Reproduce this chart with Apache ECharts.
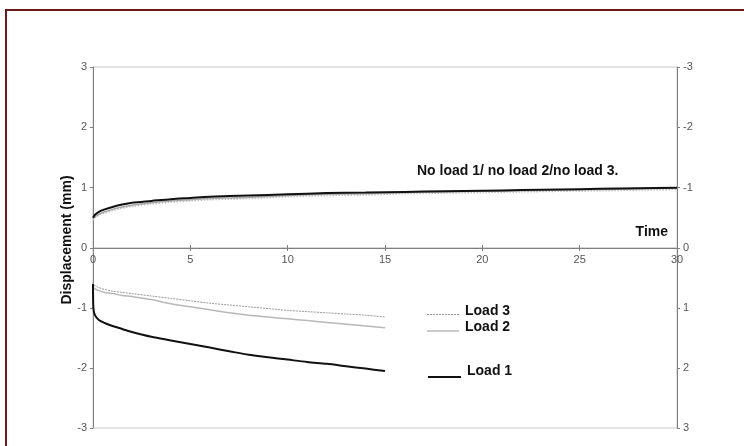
<!DOCTYPE html>
<html><head><meta charset="utf-8">
<script src="https://cdn.jsdelivr.net/npm/echarts@6/dist/echarts.min.js"></script>
<style>html,body{margin:0;padding:0;background:#fff}#c{width:744px;height:446px}</style>
</head><body><div id="c"></div>
<script>
const xTicks = [0, 5, 10, 15, 20, 25, 30];
const yLeftTicks = [-3, -2, -1, 0, 1, 2, 3];
const yRightTicks = [-3, -2, -1, 0, 1, 2, 3];

const noLoadTime = [0, 0.1, 0.3, 0.6, 1, 1.5, 2, 3, 4, 5, 6, 7, 8, 10, 12, 14, 16, 18, 20, 22, 24, 26, 28, 30];
const noLoad1 = [0.50, 0.55, 0.60, 0.64, 0.68, 0.72, 0.75, 0.78, 0.81, 0.83, 0.85, 0.86, 0.87, 0.89, 0.91, 0.92, 0.93, 0.94, 0.95, 0.96, 0.97, 0.98, 0.99, 1.00];
const noLoad2 = [0.48, 0.52, 0.56, 0.60, 0.64, 0.68, 0.71, 0.75, 0.78, 0.80, 0.82, 0.83, 0.84, 0.87, 0.89, 0.90, 0.92, 0.93, 0.94, 0.95, 0.96, 0.97, 0.98, 0.99];
const noLoad3 = [0.46, 0.50, 0.54, 0.58, 0.62, 0.66, 0.69, 0.73, 0.76, 0.78, 0.80, 0.81, 0.82, 0.85, 0.87, 0.88, 0.90, 0.91, 0.92, 0.93, 0.94, 0.95, 0.96, 0.97];

const loadTime = [0, 0.02, 0.1, 0.3, 0.6, 1, 1.5, 2, 3, 4, 5, 6, 7, 8, 9, 10, 11, 12, 13, 14, 15];
const load1 = [-0.60, -1.00, -1.12, -1.20, -1.25, -1.30, -1.35, -1.40, -1.48, -1.54, -1.60, -1.66, -1.72, -1.78, -1.82, -1.86, -1.90, -1.93, -1.97, -2.01, -2.05];
const load2 = [-0.62, -0.65, -0.68, -0.71, -0.74, -0.76, -0.79, -0.81, -0.86, -0.93, -0.98, -1.03, -1.08, -1.12, -1.15, -1.18, -1.21, -1.24, -1.27, -1.30, -1.33];
const load3 = [-0.57, -0.60, -0.63, -0.66, -0.69, -0.72, -0.74, -0.76, -0.80, -0.84, -0.88, -0.92, -0.95, -0.98, -1.01, -1.04, -1.06, -1.08, -1.10, -1.12, -1.15];

const zip = (t, v) => t.map((x, i) => [x, v[i]]);
const FONT = 'Liberation Sans, Arial, sans-serif';
const AX = '#808080';
const lbl = { color: '#555', fontSize: 11, fontFamily: FONT, margin: 6 };
const yMin = yLeftTicks[0], yMax = yLeftTicks[yLeftTicks.length - 1];
const rMin = yRightTicks[0], rMax = yRightTicks[yRightTicks.length - 1];
const BOLD = 'bold 14px ' + FONT;

const chart = echarts.init(document.getElementById('c'));
chart.setOption({
  animation: false,
  backgroundColor: '#fff',
  grid: [
    { left: 93, right: 67, top: 67, height: 181, show: true, borderColor: '#c8c8c8', borderWidth: 1, backgroundColor: 'transparent' },
    { left: 93, right: 67, top: 248, height: 180, show: true, borderColor: '#c8c8c8', borderWidth: 1, backgroundColor: 'transparent' }
  ],
  xAxis: [{
    gridIndex: 0, type: 'value', min: xTicks[0], max: xTicks[xTicks.length - 1], interval: 5, position: 'bottom',
    axisLine: { onZero: false, lineStyle: { color: AX, width: 1 } },
    axisTick: { show: true, length: 3, lineStyle: { color: AX } },
    axisLabel: { color: '#555', fontSize: 11, fontFamily: FONT, margin: 6 },
    splitLine: { show: false }
  }, {
    gridIndex: 1, type: 'value', min: xTicks[0], max: xTicks[xTicks.length - 1], interval: 5, position: 'top',
    axisLine: { onZero: false, lineStyle: { color: AX, width: 1 } },
    axisTick: { show: true, length: 3, lineStyle: { color: AX } },
    axisLabel: { show: false },
    splitLine: { show: false }
  }],
  yAxis: [{
    gridIndex: 0, type: 'value', min: 0, max: yMax, interval: 1, position: 'left',
    axisLine: { show: true, onZero: false, lineStyle: { color: AX } },
    axisTick: { show: true, length: 3, lineStyle: { color: AX } },
    axisLabel: lbl, splitLine: { show: false }
  }, {
    gridIndex: 0, type: 'value', min: rMin, max: 0, interval: 1, position: 'right', inverse: true,
    axisLine: { show: true, onZero: false, lineStyle: { color: AX } },
    axisTick: { show: true, length: 3, lineStyle: { color: AX } },
    axisLabel: lbl, splitLine: { show: false }
  }, {
    gridIndex: 1, type: 'value', min: yMin, max: 0, interval: 1, position: 'left',
    axisLine: { show: true, onZero: false, lineStyle: { color: AX } },
    axisTick: { show: true, length: 3, lineStyle: { color: AX } },
    axisLabel: Object.assign({ showMaxLabel: false }, lbl), splitLine: { show: false }
  }, {
    gridIndex: 1, type: 'value', min: 0, max: rMax, interval: 1, position: 'right', inverse: true,
    axisLine: { show: true, onZero: false, lineStyle: { color: AX } },
    axisTick: { show: true, length: 3, lineStyle: { color: AX } },
    axisLabel: Object.assign({ showMinLabel: false }, lbl), splitLine: { show: false }
  }],
  series: [
    { name: 'no load 3', type: 'line', xAxisIndex: 0, yAxisIndex: 0, data: zip(noLoadTime, noLoad3), smooth: 0.3, showSymbol: false, lineStyle: { color: '#bdbdbd', width: 1.5, type: 'dotted' } },
    { name: 'no load 2', type: 'line', xAxisIndex: 0, yAxisIndex: 0, data: zip(noLoadTime, noLoad2), smooth: 0.3, showSymbol: false, lineStyle: { color: '#a8a8a8', width: 1.5 } },
    { name: 'No load 1', type: 'line', xAxisIndex: 0, yAxisIndex: 0, data: zip(noLoadTime, noLoad1), smooth: 0.3, showSymbol: false, lineStyle: { color: '#111', width: 2 } },
    { name: 'Load 3', type: 'line', xAxisIndex: 1, yAxisIndex: 2, data: zip(loadTime, load3), smooth: 0.3, showSymbol: false, lineStyle: { color: '#9a9a9a', width: 1, type: [2, 1] } },
    { name: 'Load 2', type: 'line', xAxisIndex: 1, yAxisIndex: 2, data: zip(loadTime, load2), smooth: 0.3, showSymbol: false, lineStyle: { color: '#b8b8b8', width: 1.5 } },
    { name: 'Load 1', type: 'line', xAxisIndex: 1, yAxisIndex: 2, data: zip(loadTime, load1), smooth: 0.3, showSymbol: false, lineStyle: { color: '#111', width: 2 } }
  ],
  graphic: [
    { type: 'rect', shape: { x: 6, y: 10, width: 800, height: 500 }, style: { fill: 'none', stroke: '#6a1a1a', lineWidth: 2 }, z: 100 },
    { type: 'text', x: 67, y: 240, rotation: Math.PI / 2, style: { text: 'Displacement (mm)', font: BOLD, fill: '#111', align: 'center', verticalAlign: 'middle' } },
    { type: 'text', x: 417, y: 171, style: { text: 'No load 1/ no load 2/no load 3.', font: BOLD, fill: '#111', verticalAlign: 'middle' } },
    { type: 'text', x: 668, y: 232, style: { text: 'Time', font: BOLD, fill: '#111', align: 'right', verticalAlign: 'middle' } },
    { type: 'line', shape: { x1: 427, y1: 314.5, x2: 459, y2: 314.5 }, style: { stroke: '#9a9a9a', lineWidth: 1, lineDash: [2, 1] } },
    { type: 'line', shape: { x1: 427, y1: 331, x2: 459, y2: 331 }, style: { stroke: '#b8b8b8', lineWidth: 1.5 } },
    { type: 'line', shape: { x1: 428, y1: 377, x2: 461, y2: 377 }, style: { stroke: '#111', lineWidth: 2 } },
    { type: 'text', x: 465, y: 311, style: { text: 'Load 3', font: BOLD, fill: '#111', verticalAlign: 'middle' } },
    { type: 'text', x: 465, y: 327, style: { text: 'Load 2', font: BOLD, fill: '#111', verticalAlign: 'middle' } },
    { type: 'text', x: 467, y: 371, style: { text: 'Load 1', font: BOLD, fill: '#111', verticalAlign: 'middle' } }
  ]
});
</script></body></html>
